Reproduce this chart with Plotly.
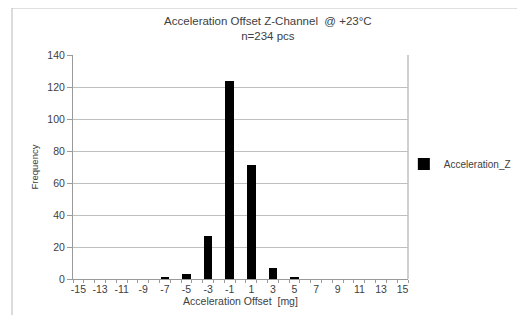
import plotly.graph_objects as go

bins = [-15, -13, -11, -9, -7, -5, -3, -1, 1, 3, 5, 7, 9, 11, 13, 15]
counts = [0, 0, 0, 0, 1, 3, 27, 124, 71, 7, 1, 0, 0, 0, 0, 0]
tick_labels = [str(b) for b in bins]
y_ticks = [0, 20, 40, 60, 80, 100, 120, 140]

FONT = "Liberation Sans"
AX = "#9a9a9a"
GRID = "#bfbfbf"
TXT = "#404040"

fig = go.Figure()
fig.add_trace(go.Bar(x=bins, y=counts, width=0.78, name="Acceleration_Z",
                     marker=dict(color="black", line=dict(width=0)),
                     showlegend=True))

fig.update_layout(
    width=525, height=315,
    margin=dict(l=65, r=125, t=47, b=44, autoexpand=False),
    paper_bgcolor="white", plot_bgcolor="white",
    title=dict(text="Acceleration Offset Z-Channel  @ +23°C<br>n=234 pcs",
               x=0.495, xanchor="center", y=0.946, yanchor="middle",
               font=dict(family=FONT, size=11.5, color=TXT)),
    font=dict(family=FONT, size=10.5, color=TXT),
    showlegend=True,
    legend=dict(xref="container", x=0.754, xanchor="left",
                yref="container", y=0.505, yanchor="middle",
                font=dict(family=FONT, size=10, color=TXT),
                bgcolor="rgba(0,0,0,0)", itemwidth=30),
    bargap=0,
)

fig.update_xaxes(
    range=[-15.5, 15.5],
    tickmode="array", tickvals=bins, ticktext=tick_labels,
    ticks="", showgrid=False, zeroline=False,
    showline=True, linecolor=AX, linewidth=1,
    tickfont=dict(family=FONT, size=10.5, color=TXT),
    title=dict(text="Acceleration Offset  [mg]", standoff=3,
               font=dict(family=FONT, size=10.5, color=TXT)),
    minor=dict(tickmode="linear", tick0=-15.5, dtick=1, ticks="outside",
               ticklen=3, tickcolor=AX, showgrid=False),
)
fig.update_yaxes(
    range=[0, 140], tickmode="array", tickvals=y_ticks,
    ticks="outside", ticklen=5, tickcolor=AX,
    showgrid=True, gridcolor=GRID, gridwidth=1, zeroline=False,
    showline=True, linecolor=AX, linewidth=1,
    tickfont=dict(family=FONT, size=10.5, color=TXT),
    title=dict(text="Frequency", standoff=7,
               font=dict(family=FONT, size=9.5, color=TXT)),
)

# plot area right border
fig.add_shape(type="line", xref="paper", yref="paper", x0=1, x1=1, y0=0, y1=1,
              line=dict(color=GRID, width=1.5))
# chart outer border
fig.add_shape(type="rect", xref="paper", yref="paper",
              x0=-0.182, x1=1.337, y0=-0.2, y1=1.21,
              line=dict(color="#b8b8b8", width=1))

fig.write_html("out.html")
